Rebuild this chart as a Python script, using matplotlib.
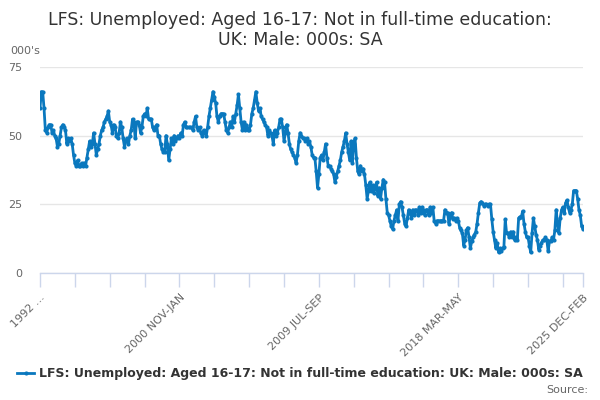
import matplotlib
matplotlib.use("Agg")
import matplotlib.pyplot as plt

title = "LFS: Unemployed: Aged 16-17: Not in full-time education:\nUK: Male: 000s: SA"
series_name = "LFS: Unemployed: Aged 16-17: Not in full-time education: UK: Male: 000s: SA"
unit_label = "000's"

seg_a = [60, 66, 66, 60, 52, 51, 53, 54, 54, 51, 52, 50, 49, 46, 47, 50, 53, 54, 53, 52, 47, 49, 48, 49, 47, 43]
seg_b = [40, 39, 41, 39, 39, 40, 39, 40, 39, 42, 45, 48, 46, 47, 51, 47, 43, 45, 47, 50, 52, 53, 55, 56, 57, 59]
seg_c = [55, 54, 51, 54, 53, 50, 49, 51, 55, 53, 49, 46, 48, 49, 47, 50, 52, 56, 55, 49, 55, 55, 54, 51, 53, 57]
seg_d = [58, 57, 60, 56, 56, 56, 53, 52, 53, 54, 50, 50, 47, 45, 44, 44, 50, 47, 41, 45, 49, 47, 50, 48, 49, 50]
seg_e = [49, 51, 50, 54, 55, 53, 53, 53, 53, 53, 52, 55, 57, 53, 52, 53, 51, 50, 52, 51, 50, 53, 57, 60, 63, 66]
seg_f = [64, 62, 57, 55, 57, 58, 58, 58, 55, 52, 51, 53, 55, 53, 57, 55, 58, 61, 65, 60, 55, 52, 55, 52, 54, 52]
seg_g = [52, 54, 58, 60, 63, 66, 62, 59, 60, 57, 56, 55, 54, 53, 50, 52, 51, 50, 47, 52, 50, 51, 53, 56, 56, 53]
seg_h = [48, 51, 54, 51, 47, 45, 44, 43, 42, 40, 43, 48, 51, 50, 49, 49, 48, 49, 47, 48, 46, 43, 42, 42, 37, 31]
seg_i = [36, 42, 43, 41, 44, 47, 42, 39, 39, 38, 37, 36, 33, 35, 37, 39, 41, 44, 46, 48, 51, 47, 44, 41, 48, 40]
seg_j = [47, 49, 42, 37, 36, 39, 37, 38, 36, 32, 27, 30, 33, 30, 32, 29, 31, 33, 28, 31, 27, 31, 34, 33, 27, 22]
seg_k = [21, 19, 17, 16, 19, 21, 23, 19, 25, 26, 24, 21, 18, 17, 20, 23, 22, 20, 23, 21, 23, 23, 21, 24, 22, 24]
seg_l = [23, 21, 23, 23, 21, 24, 22, 24, 19, 18, 19, 19, 19, 19, 19, 19, 23, 22, 22, 18, 20.5, 22, 19.5, 20, 19, 20]
seg_m = [19, 16.5, 15.5, 14.5, 10, 12, 15.5, 16.5, 13, 9, 11.5, 13, 14, 15, 18, 22, 25.5, 26, 25.5, 24.5, 25, 25, 24.5, 25, 25, 19.5]
seg_n = [15, 12, 9, 11, 7.5, 9, 8, 9, 9.5, 19.5, 14.5, 14.5, 13, 15, 13, 15, 12, 13, 12, 20, 20.5, 20.5, 22.5, 18, 15, 13]
seg_o = [13, 10, 7.5, 14.5, 20, 17, 14, 12, 8.5, 10, 11, 12, 12, 13, 12, 8, 11.5, 11.5, 13, 12, 15.5, 23, 18, 14.5, 20, 23]
seg_p = [24, 22, 25.5, 26.5, 24, 22, 23, 25, 30, 30, 30, 27, 23, 21, 17, 16]

values = (seg_a + seg_b + seg_c + seg_d + seg_e + seg_f + seg_g + seg_h + seg_i + seg_j
          + seg_k + seg_l + seg_m + seg_n + seg_o + seg_p)

tick_label_positions = [0, 104, 208, 312, 405]
tick_labels = ["1992 ...", "2000 NOV-JAN", "2009 JUL-SEP", "2018 MAR-MAY", "2025 DEC-FEB"]
y_ticks = [0, 25, 50, 75]

n = len(values)
x = list(range(n))

fig = plt.figure(figsize=(6, 4), dpi=100)
ax = fig.add_axes([40 / 600, 1 - 273 / 400, 543 / 600, 206 / 400])

line_color = "#0a78be"
ax.plot(x, values, color=line_color, linewidth=2, marker="o", markersize=3,
        markeredgewidth=0, label=series_name, zorder=3)

ax.set_xlim(0, n - 1)
ax.set_ylim(0, 75)

ax.set_yticks(y_ticks)
ax.set_yticklabels([str(v) for v in y_ticks], color="#666666", fontsize=8)
ax.tick_params(axis="y", length=0, pad=13)
for lbl in ax.get_yticklabels():
    lbl.set_horizontalalignment("right")
ax.grid(axis="y", color="#e6e6e6", linewidth=1)
ax.set_axisbelow(True)

minor = list(range(0, n, 26))
if minor[-1] != n - 1:
    minor.append(n - 1)
ax.set_xticks(minor, minor=True)
ax.set_xticks(tick_label_positions)
ax.set_xticklabels(tick_labels, rotation=45, ha="right", rotation_mode="anchor",
                   color="#666666", fontsize=8)
ax.tick_params(axis="x", which="both", length=10, color="#ccd6eb", width=1, pad=4)

for s in ["top", "right", "left"]:
    ax.spines[s].set_visible(False)
ax.spines["bottom"].set_color("#ccd6eb")
ax.spines["bottom"].set_linewidth(1)

fig.text(0.5, 1 - 30 / 400, title, ha="center", va="center", fontsize=12.5,
         color="#333333", linespacing=1.15)
fig.text(10 / 600, 1 - 51 / 400, unit_label, ha="left", va="center", fontsize=8,
         color="#666666")

leg = fig.legend(loc="center", bbox_to_anchor=(0.5, 1 - 374 / 400), frameon=False,
                 prop={"weight": "bold", "size": 9}, handlelength=1.4,
                 handletextpad=0.4, borderaxespad=0)
for t in leg.get_texts():
    t.set_color("#333333")

fig.text(588 / 600, 1 - 390 / 400, "Source:", ha="right", va="center", fontsize=8,
         color="#666666")

fig.savefig("out.png", dpi=100)
